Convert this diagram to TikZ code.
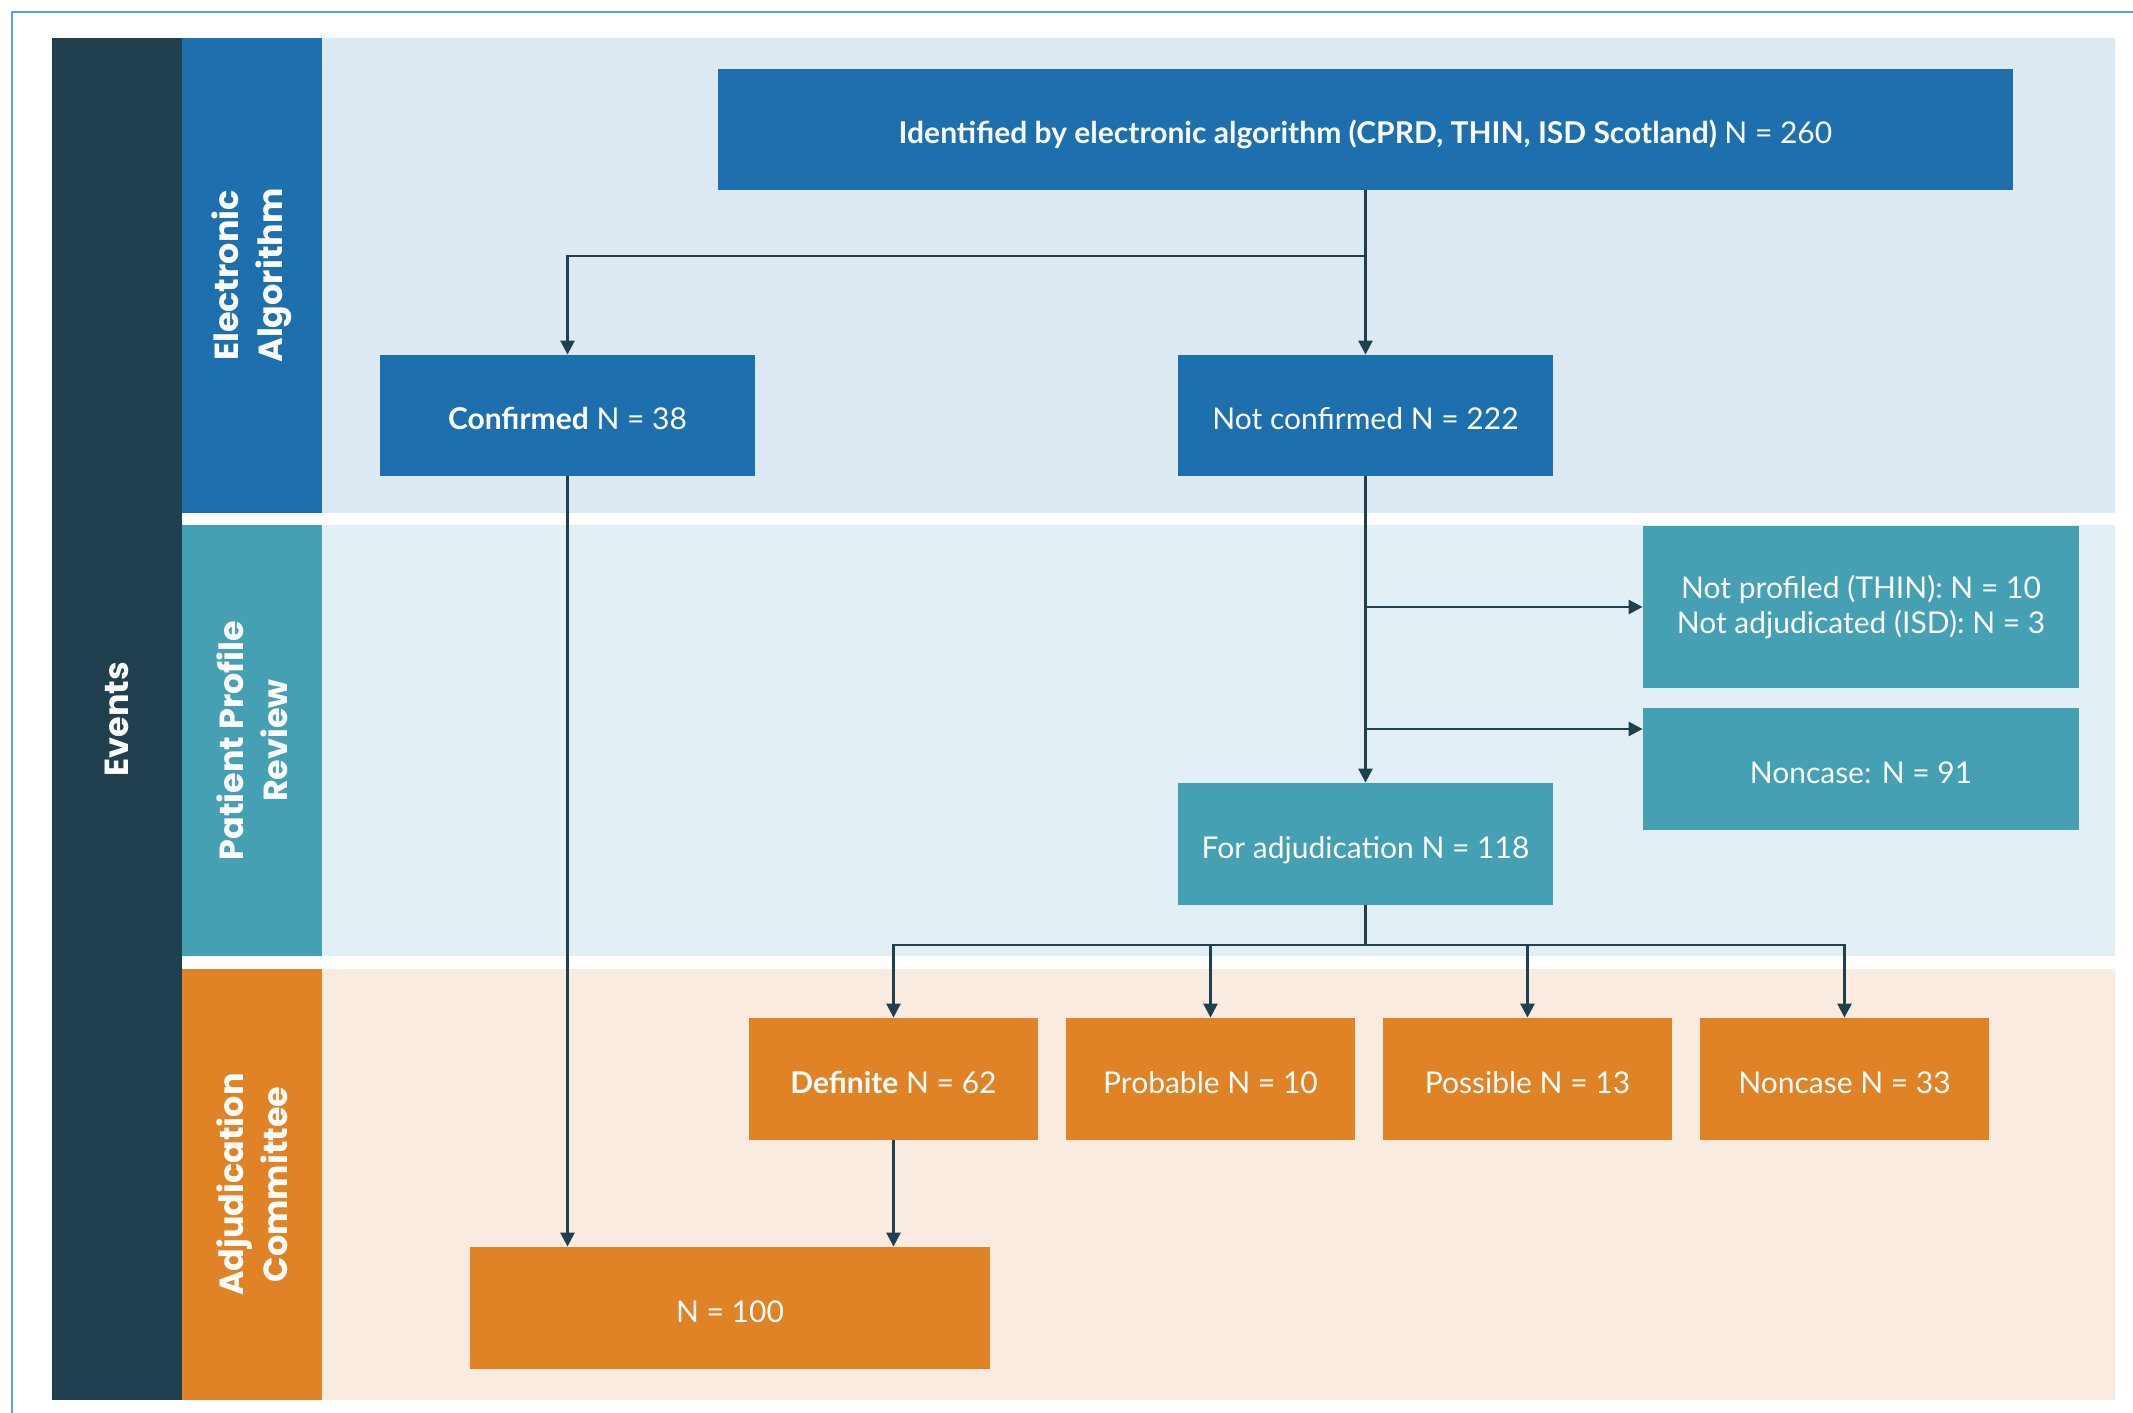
\documentclass[tikz,border=0pt]{standalone}
\usepackage{fontspec}
\setmainfont{Lato}
\newfontfamily\lanefont{Poppins}
\usetikzlibrary{arrows.meta}
\definecolor{cdark}{HTML}{21404F}
\definecolor{cblue}{HTML}{1D6FAE}
\definecolor{cteal}{HTML}{45A0B4}
\definecolor{corange}{HTML}{E08226}
\definecolor{bgA}{HTML}{DEEAF3}
\definecolor{bgB}{HTML}{E2EFF4}
\definecolor{bgC}{HTML}{F9EBDF}
\definecolor{cframe}{HTML}{5BA3C8}
\begin{document}
\begin{tikzpicture}[x=0.5pt,y=-0.5pt,
  box/.style={rectangle, inner sep=0pt, text=white, font=\fontsize{15}{17.7}\selectfont, align=center, text height=14pt, text depth=0pt},
  bluebox/.style={box, fill=cblue},
  tealbox/.style={box, fill=cteal},
  orangebox/.style={box, fill=corange},
  arr/.style={draw=cdark, line width=1.3pt, -{Triangle[length=7pt,width=7pt]}},
  ln/.style={draw=cdark, line width=1.3pt},
  lanelab/.style={rotate=90, text=white, font=\lanefont\bfseries\fontsize{16.7}{21.8}\selectfont, align=center}]
\useasboundingbox (0,0) rectangle (2133,1413);
\fill[white] (0,0) rectangle (2133,1413);
\draw[cframe, line width=1pt] (12,1413) -- (12,12) -- (2133,12);

% lanes
\fill[cdark] (52,38) rectangle (182,1400);
\fill[cblue] (182,38) rectangle (322,513);
\fill[bgA] (322,38) rectangle (2115,513);
\fill[cteal] (182,525) rectangle (322,956);
\fill[bgB] (322,525) rectangle (2115,956);
\fill[corange] (182,969) rectangle (322,1400);
\fill[bgC] (322,969) rectangle (2115,1400);

\node[lanelab] (events) at (117,719) {Events};
\node[lanelab] (laneA) at (252,275.5) {Electronic\\Algorithm};
\node[lanelab] (laneB) at (252,740.5) {Patient Profile\\Review};
\node[lanelab] (laneC) at (252,1184.5) {Adjudication\\Committee};

% boxes
\node[bluebox, minimum width=647.5pt, minimum height=60.5pt] (main) at (1365.5,129.5)
  {\textbf{Identified by electronic algorithm (CPRD, THIN, ISD Scotland)} N = 260};
\node[bluebox, minimum width=187.5pt, minimum height=60.5pt] (conf) at (567.5,415.5)
  {\textbf{Confirmed} N = 38};
\node[bluebox, minimum width=187.5pt, minimum height=60.5pt] (nc) at (1365.5,415.5)
  {Not confirmed N = 222};
\node[tealbox, minimum width=218pt, minimum height=81pt, text height=, text depth=] (s1) at (1861,607)
  {Not profiled (THIN): N = 10\\Not adjudicated (ISD): N = 3};
\node[tealbox, minimum width=218pt, minimum height=61pt] (s2) at (1861,769)
  {Noncase: N = 91};
\node[tealbox, minimum width=187.5pt, minimum height=61pt] (adj) at (1365.5,844)
  {For adjudication N = 118};
\node[orangebox, minimum width=144.5pt, minimum height=61pt] (def) at (893.5,1079)
  {\textbf{Definite} N = 62};
\node[orangebox, minimum width=144.5pt, minimum height=61pt] (prob) at (1210.5,1079)
  {Probable N = 10};
\node[orangebox, minimum width=144.5pt, minimum height=61pt] (poss) at (1527.5,1079)
  {Possible N = 13};
\node[orangebox, minimum width=144.5pt, minimum height=61pt] (nonc) at (1844.5,1079)
  {Noncase N = 33};
\node[orangebox, minimum width=260pt, minimum height=61pt] (n100) at (730,1308)
  {N = 100};

% connectors
\coordinate (j1) at (1365.5,256);
\coordinate (j2) at (1365.5,729);
\coordinate (j3) at (1365.5,945);
\draw[arr] (main.south) -- (nc.north);
\draw[arr] (j1) -| (conf.north);
\draw[arr] (nc.south) -- (adj.north);
\draw[arr] (nc.south |- s1.west) -- (s1.west);
\draw[arr] (j2) -- (j2 -| s2.west);
\draw[ln] (adj.south) -- (j3);
\draw[arr] (j3) -| (def.north);
\draw[arr] (j3) -| (prob.north);
\draw[arr] (j3) -| (poss.north);
\draw[arr] (j3) -| (nonc.north);
\draw[arr] (conf.south) -- (conf.south |- n100.north);
\draw[arr] (def.south) -- (def.south |- n100.north);
\end{tikzpicture}
\end{document}
